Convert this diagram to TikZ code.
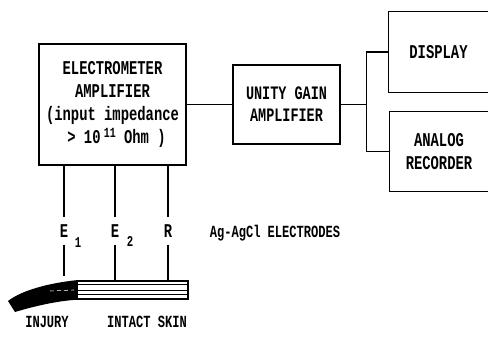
\documentclass[tikz,border=0pt]{standalone}
\usepackage{fontspec}
\usetikzlibrary{calc}
% condensed typewriter face for all labels
\newfontfamily\diafont{Liberation Mono}[FakeStretch=0.71]
\newcommand{\fsz}[2]{\fontsize{#1}{#2}\selectfont}

\begin{document}
\begin{tikzpicture}[x=1pt, y=-1pt,
  every node/.style={font=\diafont\bfseries\fsz{19.5}{23}, inner sep=0pt},
  blk/.style={draw, line width=1.3pt, align=center},
  openblk/.style={align=center},
  boxline/.style={line width=1.3pt},
  wire/.style={line width=1.2pt},
  elab/.style={inner xsep=0pt, inner ysep=7pt},
  subl/.style={font=\diafont\bfseries\fsz{15}{15}},
  note/.style={font=\diafont\bfseries\fsz{17}{17}}]
\useasboundingbox (0,0) rectangle (488,337);

% amplifier chain
\node[blk, minimum width=147pt, minimum height=121pt] (elec) at (112.5,104.5)
  {ELECTROMETER\\AMPLIFIER\\(input impedance\\\hspace*{8pt}> 10\,\raisebox{6pt}{\fsz{14}{14}11} Ohm )};
\node[blk, minimum width=107pt, minimum height=79pt, font=\diafont\bfseries\fsz{19}{22}] (unity) at (286.5,104.5)
  {UNITY GAIN\\AMPLIFIER};

% output devices (open on the right)
\node[openblk, minimum width=99pt, minimum height=80pt] (disp) at (438.5,52) {DISPLAY};
\node[openblk, minimum width=98pt, minimum height=79pt] (rec) at (439,151.5) {ANALOG\\RECORDER};
\draw[boxline] (disp.north east) -- (disp.north west) -- (disp.south west) -- (disp.south east);
\draw[boxline] (rec.north east) -- (rec.north west) -- (rec.south west) -- (rec.south east);

% signal path
\draw[wire] (elec.east) -- (unity.west);
\draw[wire] (unity.east) -- ++(26,0) coordinate (split);
\draw[wire] (disp.west) -| (split) |- (rec.west);

% skin strip with injured end
\node[draw, line width=1.6pt, minimum width=111pt, minimum height=18pt] (skin) at (132.5,290) {};
\draw[line width=1pt] ($(skin.north west)+(0,4)$) -- ($(skin.north east)+(0,4)$);
\draw[line width=1pt] ($(skin.north west)+(0,10.5)$) -- ($(skin.north east)+(0,10.5)$);
\draw[line width=1pt] ($(skin.north west)+(0,14.5)$) -- ($(skin.north east)+(0,14.5)$);
\fill (skin.north west) .. controls (50,283) and (22,290) .. (8,301)
  -- (15,312) .. controls (35,306) and (57,301) .. (skin.south west) -- cycle;
\draw[white, line width=0.6pt, dash pattern=on 4pt off 3pt] (50,291) -- (74,290);

% electrodes
\node[elab] (e1) at (64,231) {E};
\node[subl] (s1) at (78,243) {1};
\node[elab] (e2) at (115,231) {E};
\node[subl] (s2) at (130,241) {2};
\node[elab] (r) at (168,231) {R};
\draw[wire] (elec.south -| e1) -- (e1.north);
\draw[wire] (elec.south -| e2) -- (e2.north);
\draw[wire] (elec.south -| r) -- (r.north);
\draw[wire, shorten >=4pt] (e1.south) -- (e1 |- skin.north);
\draw[wire] (e2.south) -- (e2 |- skin.north);
\draw[wire] (r.south) -- (r |- skin.north);

% captions
\node[note] (elect) at (275,233) {Ag-AgCl ELECTRODES};
\node[note] (inj) at (47,322) {INJURY};
\node[note] (intact) at (147,322) {INTACT SKIN};
\end{tikzpicture}
\end{document}
